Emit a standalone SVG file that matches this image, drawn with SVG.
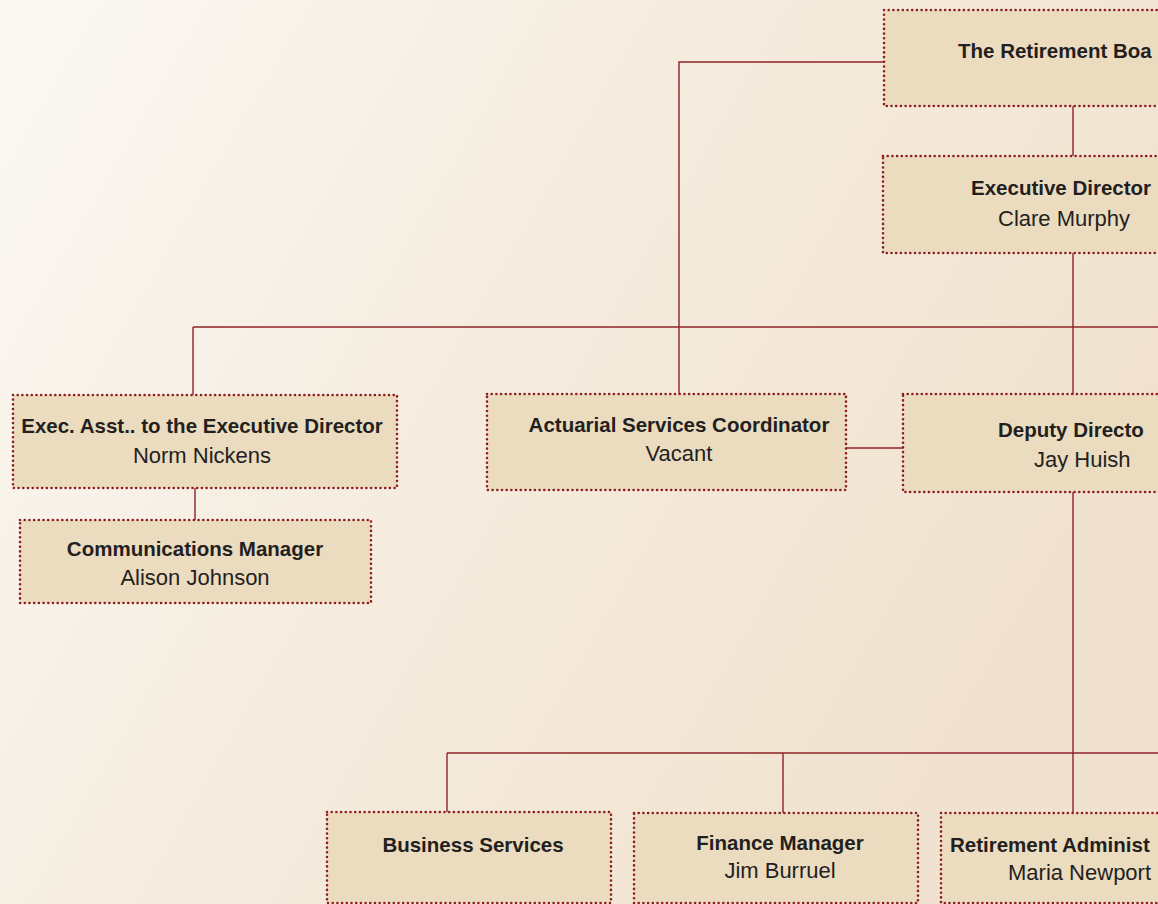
<svg xmlns="http://www.w3.org/2000/svg" width="1158" height="904" viewBox="0 0 1158 904">
<defs>
<linearGradient id="bg" x1="0" y1="0" x2="1" y2="0.45">
<stop offset="0" stop-color="#fbf8f3"/>
<stop offset="0.5" stop-color="#f5ecdf"/>
<stop offset="1" stop-color="#f1e2cf"/>
</linearGradient>
<style>
.box{fill:#ebdbbf;stroke:#8e1b1f;stroke-width:2.6;stroke-dasharray:0 4.7;stroke-linecap:round}
.ln{fill:none;stroke:#8e2328;stroke-width:1.4}
.t{font-family:"Liberation Sans",Arial,sans-serif;font-weight:bold;font-size:20.5px;fill:#231f20}
.n{font-family:"Liberation Sans",Arial,sans-serif;font-size:22px;fill:#231f20}
.m{text-anchor:middle}
</style>
</defs>
<rect x="0" y="0" width="1158" height="904" fill="url(#bg)"/>
<g id="connectors">
<path class="ln" d="M1073 106V156M1073 253V394M884 62H679V394M193 327H1160M193 327V395M195 488V520M846 448H903M1073 492V812M447 753H1160M447 753V812M783 753V813"/>
</g>
<g id="board">
<rect class="box" x="884" y="10" width="320" height="96"/>
<text class="t" x="958" y="58">The Retirement Boa</text>
</g>
<g id="exec-director">
<rect class="box" x="883" y="156" width="320" height="97"/>
<text class="t" x="971" y="195">Executive Director</text>
<text class="n" x="998" y="226">Clare Murphy</text>
</g>
<g id="exec-asst">
<rect class="box" x="13" y="395" width="384" height="93"/>
<text class="t m" x="202" y="433">Exec. Asst.. to the Executive Director</text>
<text class="n m" x="202" y="463">Norm Nickens</text>
</g>
<g id="communications">
<rect class="box" x="20" y="520" width="351" height="83"/>
<text class="t m" x="195" y="556">Communications Manager</text>
<text class="n m" x="195" y="585">Alison Johnson</text>
</g>
<g id="actuarial">
<rect class="box" x="487" y="394" width="359" height="96"/>
<text class="t m" x="679" y="432">Actuarial Services Coordinator</text>
<text class="n m" x="679" y="461">Vacant</text>
</g>
<g id="deputy">
<rect class="box" x="903" y="394" width="300" height="98"/>
<text class="t" x="998" y="437">Deputy Directo</text>
<text class="n" x="1034" y="467">Jay Huish</text>
</g>
<g id="business">
<rect class="box" x="327" y="812" width="284" height="91"/>
<text class="t m" x="473" y="852">Business Services</text>
</g>
<g id="finance">
<rect class="box" x="634" y="813" width="284" height="90"/>
<text class="t m" x="780" y="850">Finance Manager</text>
<text class="n m" x="780" y="878">Jim Burruel</text>
</g>
<g id="retirement-admin">
<rect class="box" x="941" y="813" width="300" height="90"/>
<text class="t" x="950" y="852">Retirement Administ</text>
<text class="n" x="1008" y="880">Maria Newport</text>
</g>
</svg>
